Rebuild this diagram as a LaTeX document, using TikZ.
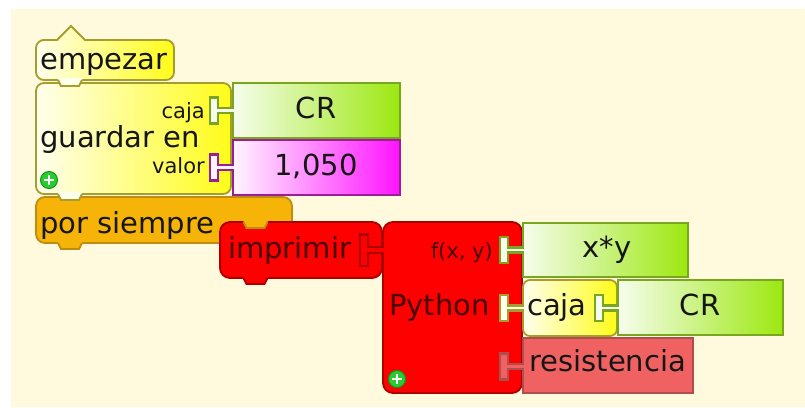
\documentclass[tikz,border=0pt]{standalone}
\usepackage{fontspec}
\setmainfont{DejaVu Sans}
\definecolor{cream}{RGB}{255,249,222}
\definecolor{inkdark}{RGB}{22,22,22}
\definecolor{inkred}{RGB}{70,0,0}
\definecolor{yellowpale}{RGB}{255,255,238}
\definecolor{yellowfull}{RGB}{255,252,24}
\definecolor{yellowline}{RGB}{165,158,44}
\definecolor{greenpale}{RGB}{246,253,236}
\definecolor{greenfull}{RGB}{156,232,16}
\definecolor{greenline}{RGB}{120,166,30}
\definecolor{magentapale}{RGB}{255,244,255}
\definecolor{magentafull}{RGB}{255,20,255}
\definecolor{magentaline}{RGB}{155,30,150}
\definecolor{orangefill}{RGB}{247,180,8}
\definecolor{orangeline}{RGB}{190,140,16}
\definecolor{redfill}{RGB}{255,0,0}
\definecolor{redline}{RGB}{170,0,0}
\definecolor{pinkfill}{RGB}{240,98,98}
\definecolor{pinkline}{RGB}{175,78,78}
\definecolor{plusgreen}{RGB}{40,204,48}
\definecolor{plusline}{RGB}{20,150,30}

\begin{document}
\begin{tikzpicture}[x=1pt,y=-1pt,
  bigtext/.style={inner sep=0pt,font=\fontsize{29}{34}\selectfont,text=inkdark},
  smalltext/.style={inner sep=0pt,font=\fontsize{21}{25}\selectfont,text=inkdark},
  yellowblock/.style={left color=yellowpale,right color=yellowfull,draw=yellowline,line width=1.8pt},
  greenblock/.style={left color=greenpale,right color=greenfull,draw=greenline,line width=1.8pt},
  magentablock/.style={left color=magentapale,right color=magentafull,draw=magentaline,line width=1.8pt},
  orangeblock/.style={fill=orangefill,draw=orangeline,line width=1.8pt},
  redblock/.style={fill=redfill,draw=redline,line width=1.8pt},
  pinkblock/.style={fill=pinkfill,draw=pinkline,line width=1.8pt},
  blocktab/.pic={\fill (-12,-2) -- (-12,0) -- (-9,6) -- (9,6) -- (12,0) -- (12,-2) -- cycle;
    \draw (-12,0) -- (-9,6) -- (9,6) -- (12,0);},
  plug/.pic={\fill (2,-2.5) -- (-15,-2.5) -- (-15,-13) -- (-23,-13) -- (-23,13) -- (-15,13) -- (-15,2.5) -- (2,2.5) -- cycle;
    \draw (0.9,-2.5) -- (-15,-2.5) -- (-15,-13) -- (-23,-13) -- (-23,13) -- (-15,13) -- (-15,2.5) -- (0.9,2.5);},
  addbutton/.pic={\filldraw[fill=plusgreen,draw=plusline,line width=1pt] (0,0) circle (8.5);
    \draw[white,line width=2.6pt] (-5,0) -- (5,0) (0,-5) -- (0,5);}
]
\useasboundingbox (0,0) rectangle (805,407);
\fill[white] (0,0) rectangle (805,407);
\fill[cream] (11,9) rectangle (805,407);

\draw[orangeblock,rounded corners=9] (36,197) rectangle (292,243);
\pic[fill=orangefill,draw=orangeline,line width=1.8pt] at (70,243) {blocktab};

\draw[yellowblock,rounded corners=8] (36,83) rectangle (231,194);
\pic[fill=yellowpale,draw=yellowline,line width=1.8pt] at (70,194) {blocktab};

\draw[yellowblock] (36,60) [rounded corners=8] -- (36,40) -- (50,40) [sharp corners] -- (57,40) -- (71,26) -- (85,40) -- (92,40) [rounded corners=8] -- (174,40) -- (174,80) -- (36,80) -- cycle;
\pic[fill=yellowpale,draw=yellowline,line width=1.8pt] at (70,80) {blocktab};

\draw[greenblock] (233,83) rectangle (400,138);
\pic[fill=greenpale,draw=greenline,line width=2.2pt] at (233,110.5) {plug};
\draw[magentablock] (233,140) rectangle (400,195);
\pic[fill=magentapale,draw=magentaline,line width=2.2pt] at (233,167.5) {plug};

\draw[redblock,rounded corners=10] (220,222) rectangle (382,278);
\pic[fill=redfill,draw=redline,line width=1.8pt] at (255.5,278) {blocktab};
\pic[fill=orangefill,draw=orangeline,line width=1.8pt] at (255.5,222) {blocktab};

\draw[redblock,rounded corners=10] (383,222) rectangle (522,393);
\pic[fill=redfill,draw=redline,line width=2.2pt,yscale=1.2] at (383,250) {plug};

\draw[greenblock] (523,223) rectangle (688,277);
\pic[fill=greenpale,draw=greenline,line width=2.2pt] at (523,250) {plug};
\draw[yellowblock,rounded corners=7] (523,280) rectangle (617,336);
\pic[fill=yellowpale,draw=yellowline,line width=2.2pt] at (523,308) {plug};
\draw[greenblock] (618,280) rectangle (783,335);
\pic[fill=greenpale,draw=greenline,line width=2.2pt] at (618,308) {plug};
\draw[pinkblock] (523,338) rectangle (693,393);
\pic[fill=pinkfill,draw=pinkline,line width=2.2pt] at (523,366.5) {plug};

\pic at (49,180) {addbutton};
\pic at (397,379) {addbutton};

\node[bigtext,anchor=base west] (empezar) at (40,69) {empezar};
\node[bigtext,anchor=base west] (guardar) at (40,147) {guardar en};
\node[smalltext,anchor=base east] (cajalabel) at (205,118) {caja};
\node[smalltext,anchor=base east] (valorlabel) at (205,173) {valor};
\node[bigtext,anchor=base] (crfirst) at (316,118) {CR};
\node[bigtext,anchor=base] (numvalue) at (316,175) {1,050};
\node[bigtext,anchor=base west] (siempre) at (40,233) {por siempre};
\node[bigtext,anchor=base west,text=inkred] (imprimir) at (228,258) {imprimir};
\node[smalltext,anchor=base east,text=inkred] (fxy) at (493,258) {f(x, y)};
\node[bigtext,anchor=base east,text=inkred] (python) at (490,315) {Python};
\node[bigtext,anchor=base] (product) at (607,257) {x*y};
\node[bigtext,anchor=base west] (cajabox) at (527,315) {caja};
\node[bigtext,anchor=base] (crsecond) at (700,315) {CR};
\node[bigtext,anchor=base west] (resistencia) at (529,371) {resistencia};
\end{tikzpicture}
\end{document}
